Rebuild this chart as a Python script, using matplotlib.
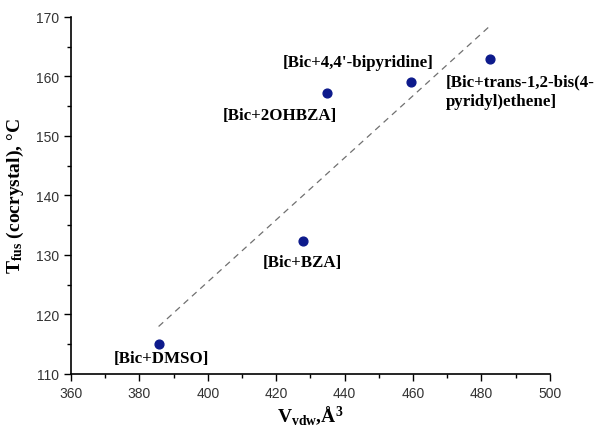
import numpy as np
import matplotlib
matplotlib.use("Agg")
import matplotlib.pyplot as plt
from matplotlib.ticker import MultipleLocator

plt.rcParams['font.family'] = ['Liberation Sans', 'DejaVu Sans']
plt.rcParams['mathtext.fontset'] = 'custom'
plt.rcParams['mathtext.rm'] = 'Liberation Serif:bold'
plt.rcParams['mathtext.bf'] = 'Liberation Serif:bold'
plt.rcParams['mathtext.it'] = 'Liberation Serif:bold'

# data
names = ['[Bic+DMSO]', '[Bic+BZA]', '[Bic+2OHBZA]', "[Bic+4,4'-bipyridine]",
         '[Bic+trans-1,2-bis(4-\npyridyl)ethene]']
v_vdw = [385.6, 427.8, 434.8, 459.3, 482.4]
t_fus = [115.0, 132.3, 157.2, 159.0, 162.9]
# label anchor positions (data units) and alignment
lab_x = [386.4, 427.7, 421.0, 444.1, 469.6]
lab_y = [112.6, 128.8, 153.6, 162.5, 157.6]
lab_ha = ['center', 'center', 'center', 'center', 'left']

fig = plt.figure(figsize=(5.97, 4.27), dpi=100)
ax = fig.add_axes([0.119, 0.122, 0.802, 0.836])

# linear fit
k, b = np.polyfit(v_vdw, t_fus, 1)
xf = np.array([min(v_vdw), max(v_vdw)])
ax.plot(xf, k * xf + b, color='#707070', linestyle=(0, (5, 4)), linewidth=0.9)

ax.scatter(v_vdw, t_fus, s=40, color='#0d1a8c', zorder=3)

for n, x, y, ha in zip(names, lab_x, lab_y, lab_ha):
    ax.text(x, y, n, ha=ha, va='center', fontsize=12.2, fontweight='bold',
            family='Liberation Serif', linespacing=1.3)

ax.set_xlim(360, 500)
ax.set_ylim(110, 170)
ax.xaxis.set_major_locator(MultipleLocator(20))
ax.xaxis.set_minor_locator(MultipleLocator(10))
ax.yaxis.set_major_locator(MultipleLocator(10))
ax.yaxis.set_minor_locator(MultipleLocator(5))
ax.tick_params(which='major', direction='out', length=5, width=1, labelsize=10,
               labelcolor='#333333')
ax.tick_params(which='minor', direction='out', length=3, width=1)
ax.spines['top'].set_visible(False)
ax.spines['right'].set_visible(False)
for s in ['left', 'bottom']:
    ax.spines[s].set_linewidth(1.2)

ax.set_xlabel(r'$\mathbf{V_{vdw}}$,Å$^{\mathbf{3}}$', fontsize=14,
              fontweight='bold', family='Liberation Serif', labelpad=3)
ax.set_ylabel(r'$\mathbf{T_{fus}}$ (cocrystal), °C', fontsize=14,
              fontweight='bold', family='Liberation Serif', labelpad=7)

fig.savefig('out.png', dpi=100)
